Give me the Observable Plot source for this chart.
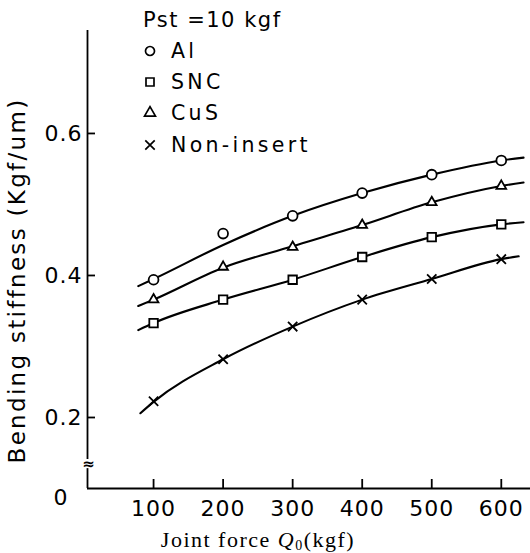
<!DOCTYPE html>
<html><head><meta charset="utf-8">
<script src="https://cdn.jsdelivr.net/npm/d3@7"></script>
<script src="https://cdn.jsdelivr.net/npm/@observablehq/plot@0.6"></script>
<style>
body{margin:0;background:#fff;}
#wrap{position:relative;width:530px;height:553px;}
</style></head><body><div id="wrap"></div>
<script>
// ---- data ----
const seriesNames = ["Al", "SNC", "CuS", "Non-insert"];
const seriesSymbols = ["circle", "square", "triangle", "times"];
const loads = [100, 200, 300, 400, 500, 600];
const alValues  = [0.394, 0.459, 0.484, 0.516, 0.542, 0.562];
const sncValues = [0.333, 0.366, 0.394, 0.426, 0.454, 0.472];
const cusValues = [0.366, 0.412, 0.440, 0.471, 0.503, 0.526];
const nonValues = [0.223, 0.282, 0.328, 0.366, 0.395, 0.423];

// fitted curves as drawn in the reference
const fitLoads    = [78, 100, 200, 300, 400, 500, 600, 632];
const alFit       = [0.385, 0.395, 0.443, 0.484, 0.516, 0.542, 0.562, 0.566];
const sncFit      = [0.323, 0.333, 0.366, 0.394, 0.426, 0.454, 0.472, 0.475];
const cusFit      = [0.357, 0.366, 0.411, 0.441, 0.471, 0.503, 0.526, 0.531];
const nonFitLoads = [81, 100, 200, 300, 400, 500, 600, 625];
const nonFit      = [0.206, 0.222, 0.282, 0.328, 0.366, 0.395, 0.423, 0.427];

const xTicks = [100, 200, 300, 400, 500, 600];
const yTicks = [0.2, 0.4, 0.6];
const yZeroLabel = "0";
const xDomain = [5, 642];
const yDomain = [0.1, 0.745];
const yBreak = [0.128, 0.141];   // gap in the y axis line
const legendTitle = "Pst =10 kgf";
const xLabel = "Joint force Q0(kgf)";
const yLabel = "Bending stiffness (Kgf/um)";

// ---- tables ----
const valuesBySeries = [alValues, sncValues, cusValues, nonValues];
const fitBySeries = [alFit, sncFit, cusFit, nonFit];
const fitXBySeries = [fitLoads, fitLoads, fitLoads, nonFitLoads];
const pointRows = seriesNames.flatMap((s, k) => loads.map((x, i) => ({series: s, x, y: valuesBySeries[k][i]})));
const fitRows = seriesNames.flatMap((s, k) => fitXBySeries[k].map((x, i) => ({series: s, x, y: fitBySeries[k][i]})));
const symbolR = {circle: 4.9, square: 4.8, triangle: 3.6, times: 4.3};

const axisSegments = [
  {y1: yDomain[0], y2: yBreak[0]},
  {y1: yBreak[1], y2: yDomain[1]}
];

const plot = Plot.plot({
  width: 530, height: 553,
  marginLeft: 87, marginRight: 0, marginTop: 30, marginBottom: 65,
  style: {fontFamily: "DejaVu Sans", background: "white", color: "black", overflow: "visible"},
  x: {domain: xDomain, axis: null},
  y: {domain: yDomain, axis: null},
  marks: [
    Plot.ruleY([yDomain[0]], {stroke: "black", strokeWidth: 1.8}),
    Plot.ruleX(axisSegments, {x: xDomain[0], y1: "y1", y2: "y2", stroke: "black", strokeWidth: 1.8}),
    Plot.text([{x: xDomain[0], y: (yBreak[0] + yBreak[1]) / 2}], {x: "x", y: "y", text: () => "≈", fontSize: 15, fontWeight: "bold", dx: 1}),
    Plot.axisX(xTicks, {tickSize: -9, tickFormat: () => "", strokeWidth: 1.8, label: null}),
    Plot.axisX(xTicks, {tickSize: 0, tickPadding: 12, fontSize: 22, label: null}),
    Plot.axisY(yTicks, {tickSize: -8, tickFormat: () => "", strokeWidth: 1.8, label: null}),
    Plot.axisY(yTicks, {tickSize: 0, tickPadding: 5, fontSize: 22, tickFormat: d => d.toFixed(1), label: null}),
    Plot.text([yZeroLabel], {x: xDomain[0], y: yDomain[0], text: d => d, textAnchor: "end", dx: -19, dy: 9, fontSize: 22}),
    Plot.text([yLabel], {frameAnchor: "left", text: d => d, rotate: -90, textAnchor: "middle", lineAnchor: "middle", dx: -70, dy: 21, fontSize: 23}),
    Plot.text([xLabel], {frameAnchor: "bottom", text: d => d, lineAnchor: "bottom", dx: -51, dy: 58, fontSize: 22, fontFamily: "Liberation Serif"}),
    Plot.line(fitRows, {x: "x", y: "y", z: "series", curve: "monotone-x", stroke: "black", strokeWidth: 2.1}),
    ...seriesNames.map((s, k) => Plot.dot(pointRows.filter(d => d.series === s), {
      x: "x", y: "y", symbol: seriesSymbols[k], r: symbolR[seriesSymbols[k]],
      fill: "white", stroke: "black", strokeWidth: 1.8
    }))
  ]
});

const wrap = d3.select("#wrap");
wrap.node().appendChild(plot);
const svg = d3.select(plot);
const allText = svg.selectAll("text");
allText.filter(function() { return this.textContent === yLabel; }).style("letter-spacing", "2.3px");
allText.filter(function() { return /^\d(\.\d)?$|^\d00$/.test(this.textContent); }).style("letter-spacing", "1px");
// x label with italic Q and subscript 0
allText.filter(function() { return this.textContent === xLabel; }).each(function() {
  const t = d3.select(this);
  t.text(null).style("letter-spacing", "1.5px");
  t.append("tspan").text("Joint force ");
  t.append("tspan").attr("font-style", "italic").text("Q");
  t.append("tspan").attr("font-size", 14).attr("dy", 3).text("0");
  t.append("tspan").attr("dy", -3).text("(kgf)");
});

// ---- legend ----
const leg = wrap.append("svg")
  .attr("width", 530).attr("height", 170)
  .style("position", "absolute").style("left", "0px").style("top", "0px")
  .style("font-family", "DejaVu Sans");
leg.append("text").attr("x", 143).attr("y", 27).attr("font-size", 21)
  .style("letter-spacing", "1.5px").text(legendTitle);
const rowBaselines = [58, 89, 120, 152];
const legendSym = {circle: d3.symbolCircle, square: d3.symbolSquare, triangle: d3.symbolTriangle, times: d3.symbolTimes};
const legendSize = {circle: 64, square: 64, triangle: 52, times: 60};
seriesNames.forEach((s, k) => {
  const sym = seriesSymbols[k];
  const yb = rowBaselines[k];
  leg.append("path")
    .attr("d", d3.symbol(legendSym[sym], legendSize[sym])())
    .attr("transform", `translate(150,${yb - 7})`)
    .attr("fill", "white").attr("stroke", "black").attr("stroke-width", 1.7);
  leg.append("text").attr("x", 171).attr("y", yb).attr("font-size", 20.5)
    .style("letter-spacing", "3.3px").text(s);
});
</script>
</body></html>
